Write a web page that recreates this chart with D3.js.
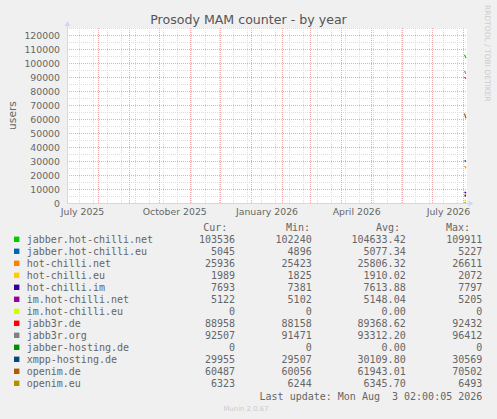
<!DOCTYPE html>
<html>
<head>
<meta charset="utf-8">
<script src="https://cdn.jsdelivr.net/npm/d3@7/dist/d3.min.js"></script>
<style>
  html, body { margin: 0; padding: 0; background: #F0F0F0; }
  svg { display: block; }
  text { white-space: pre; }
</style>
</head>
<body>
<script>
// ---------- data ----------
const seriesNames = [
  "jabber.hot-chilli.net", "jabber.hot-chilli.eu", "hot-chilli.net", "hot-chilli.eu",
  "hot-chilli.im", "im.hot-chilli.net", "im.hot-chilli.eu", "jabb3r.de",
  "jabb3r.org", "jabber-hosting.de", "xmpp-hosting.de", "openim.de", "openim.eu"
];
const seriesColors = [
  "#00CC00", "#0066B3", "#FF8000", "#FFCC00", "#330099", "#990099", "#CCFF00",
  "#FF0000", "#808080", "#008F00", "#00487D", "#B35A00", "#B38F00"
];
const curValues = [103536, 5045, 25936, 1989, 7693, 5122, 0, 88958, 92507, 0, 29955, 60487, 6323];
const minValues = [102240, 4896, 25423, 1825, 7381, 5102, 0, 88158, 91471, 0, 29507, 60056, 6244];
const avgValues = [104633.42, 5077.34, 25806.32, 1910.02, 7613.88, 5148.04, 0.00, 89368.62, 93312.20, 0.00, 30109.80, 61943.01, 6345.70];
const maxValues = [109911, 5227, 26611, 2072, 7797, 5205, 0, 92432, 96412, 0, 30569, 70502, 6493];

// sample times of the short recent stretch of data
const sampleTimes = ["2026-08-01T12:00", "2026-08-02T04:00", "2026-08-02T16:00", "2026-08-03T02:00"];
// values per series at those sample times
const seriesSamples = [
  [105900, 104900, 104000, 103536],
  [5200, 5100, 5050, 5045],
  [26200, 25800, 25500, 25936],
  [2072, 1900, 1825, 1989],
  [7797, 7600, 7381, 7693],
  [5205, 5150, 5102, 5122],
  [0, 0, 0, 0],
  [89900, 89400, 89100, 88958],
  [94300, 93400, 92800, 92507],
  [0, 0, 0, 0],
  [30300, 30100, 29800, 29955],
  [64000, 62300, 61000, 60487],
  [6450, 6350, 6244, 6323]
];

const timeDomain = ["2025-07-01T00:00", "2026-08-04T00:00"];
const yTickValues = [0, 10000, 20000, 30000, 40000, 50000, 60000, 70000, 80000, 90000, 100000, 110000, 120000];
const yMax = 125000;
const xLabelMonths = ["2025-07-01T00:00", "2025-10-01T00:00", "2026-01-01T00:00", "2026-04-01T00:00", "2026-07-01T00:00"];
const minorGridStart = "2025-07-13T00:00";
const titleText = "Prosody MAM counter - by year";
const yAxisTitle = "users";
const lastUpdateText = "Last update: Mon Aug  3 02:00:05 2026";
const colHeaders = ["Cur:", "Min:", "Avg:", "Max:"];

// ---------- layout ----------
const W = 497, H = 419;
const L = 67, R = 467, T = 28, B = 203;
const parse = s => new Date(s);

const svg = d3.select("body").append("svg").attr("width", W).attr("height", H);
svg.append("rect").attr("width", W).attr("height", H).attr("fill", "#F0F0F0");

const x = d3.scaleTime().domain(timeDomain.map(parse)).range([L, R]);
const y = d3.scaleLinear().domain([0, yMax]).range([B, T]);
const px = v => Math.floor(v + 1e-6) + 0.5;

// canvas
svg.append("rect").attr("x", L).attr("y", T).attr("width", R - L).attr("height", B - T).attr("fill", "#FFFFFF");

const grid = svg.append("g").attr("shape-rendering", "crispEdges");
const minorColor = "#DCDCDC", majorColor = "#EFACAC";

// minor horizontal grid (every 5000)
d3.range(5000, yMax + 1, 10000).forEach(v => {
  grid.append("line").attr("x1", L).attr("x2", R).attr("y1", px(y(v))).attr("y2", px(y(v)))
    .attr("stroke", minorColor).attr("stroke-dasharray", "1,1");
});
// minor vertical grid (every 14 days)
const minorDates = [];
let dd = parse(minorGridStart);
while (dd < x.domain()[1]) { minorDates.push(new Date(dd)); dd = d3.timeDay.offset(dd, 14); }
minorDates.forEach(d => {
  grid.append("line").attr("x1", px(x(d))).attr("x2", px(x(d))).attr("y1", T).attr("y2", B)
    .attr("stroke", minorColor).attr("stroke-dasharray", "1,1");
});
// major horizontal grid
yTickValues.filter(v => v > 0).forEach(v => {
  grid.append("line").attr("x1", L).attr("x2", R).attr("y1", px(y(v))).attr("y2", px(y(v)))
    .attr("stroke", majorColor).attr("stroke-dasharray", "1,1");
});
// major vertical grid (monthly)
const months = d3.timeMonth.range(x.domain()[0], x.domain()[1]);
months.forEach(d => {
  grid.append("line").attr("x1", px(x(d))).attr("x2", px(x(d))).attr("y1", T).attr("y2", B)
    .attr("stroke", majorColor).attr("stroke-dasharray", "1,1");
});

// y tick labels
const axisFont = "DejaVu Sans";
const yAxis = d3.axisLeft(y).tickValues(yTickValues).tickSize(0).tickPadding(0).tickFormat(d3.format("d"));
const yg = svg.append("g").attr("transform", `translate(60,0)`).call(yAxis);
yg.select(".domain").remove();
yg.selectAll("text").attr("font-family", axisFont).attr("font-size", "9.33px").attr("fill", "#666")
  .attr("dy", "0.34em").attr("x", 0);

// x labels (centered mid-month)
const fmt = d3.timeFormat("%B %Y");
xLabelMonths.map(parse).forEach(d => {
  const mid = new Date((d.getTime() + d3.timeMonth.offset(d, 1).getTime()) / 2);
  svg.append("text").attr("x", x(mid)).attr("y", 215).attr("text-anchor", "middle")
    .attr("font-family", axisFont).attr("font-size", "9.33px").attr("fill", "#666").text(fmt(d));
});

// series lines
const line = d3.line().x(d => x(d.t)).y(d => y(d.v));
seriesSamples.forEach((vals, i) => {
  const pts = vals.map((v, j) => ({ t: parse(sampleTimes[j]), v }));
  svg.append("path").attr("d", line(pts)).attr("fill", "none")
    .attr("stroke", seriesColors[i]).attr("stroke-width", 1.2);
});

// axes with arrows
const axisColor = "#CFD6F8";
svg.append("line").attr("x1", L + 0.5).attr("x2", L + 0.5).attr("y1", B + 0.5).attr("y2", 25).attr("stroke", axisColor);
svg.append("path").attr("d", `M${L - 2.5},26 L${L + 3.5},26 L${L + 0.5},21 Z`).attr("fill", axisColor);
svg.append("line").attr("x1", L).attr("x2", 470).attr("y1", B + 0.5).attr("y2", B + 0.5).attr("stroke", axisColor);
svg.append("path").attr("d", `M468.5,${B - 2.5} L468.5,${B + 3.5} L473.5,${B + 0.5} Z`).attr("fill", axisColor);

// title
svg.append("text").attr("x", W / 2).attr("y", 23.5).attr("text-anchor", "middle")
  .attr("font-family", axisFont).attr("font-size", "12.6px").attr("fill", "#555").text(titleText);

// y axis title
svg.append("text").attr("transform", `translate(15.5,${(T + B) / 2}) rotate(-90)`).attr("text-anchor", "middle")
  .attr("font-family", axisFont).attr("font-size", "10.67px").attr("fill", "#666").text(yAxisTitle);

// right watermark
svg.append("text").attr("transform", "translate(485.3,5) rotate(90)")
  .attr("font-family", axisFont).attr("font-size", "7.5px").attr("fill", "#CCCCCC").text("RRDTOOL / TOBI OETIKER");

// legend
const mono = "DejaVu Sans Mono";
const rowY = i => 239.3 + 12 * i;
const headerX = [203.3, 286, 376, 446];
colHeaders.forEach((h, k) => {
  svg.append("text").attr("x", headerX[k]).attr("y", 230.8).attr("font-family", mono)
    .attr("font-size", "10px").attr("fill", "#666").text(h);
});
const colRight = [235, 311.7, 405.7, 482.3];
const fInt = d3.format("d"), fAvg = d3.format(".2f");
seriesNames.forEach((name, i) => {
  const cy = rowY(i);
  svg.append("rect").attr("x", 14).attr("y", cy - 2.7).attr("width", 5.4).attr("height", 5.4).attr("fill", seriesColors[i]);
  svg.append("text").attr("x", 26.7).attr("y", cy + 3.5).attr("font-family", mono).attr("font-size", "10px")
    .attr("fill", "#666").text(name);
  const cols = [fInt(curValues[i]), fInt(minValues[i]), fAvg(avgValues[i]), fInt(maxValues[i])];
  cols.forEach((c, k) => {
    svg.append("text").attr("x", colRight[k]).attr("y", cy + 3.5).attr("text-anchor", "end")
      .attr("font-family", mono).attr("font-size", "10px").attr("fill", "#666").text(c);
  });
});
svg.append("text").attr("x", 482.3).attr("y", 399.5).attr("text-anchor", "end")
  .attr("font-family", mono).attr("font-size", "10px").attr("fill", "#666").text(lastUpdateText);

// footer
svg.append("text").attr("x", 246).attr("y", 411).attr("text-anchor", "middle")
  .attr("font-family", axisFont).attr("font-size", "6.9px").attr("fill", "#CCCCCC").text("Munin 2.0.67");
</script>
</body>
</html>
